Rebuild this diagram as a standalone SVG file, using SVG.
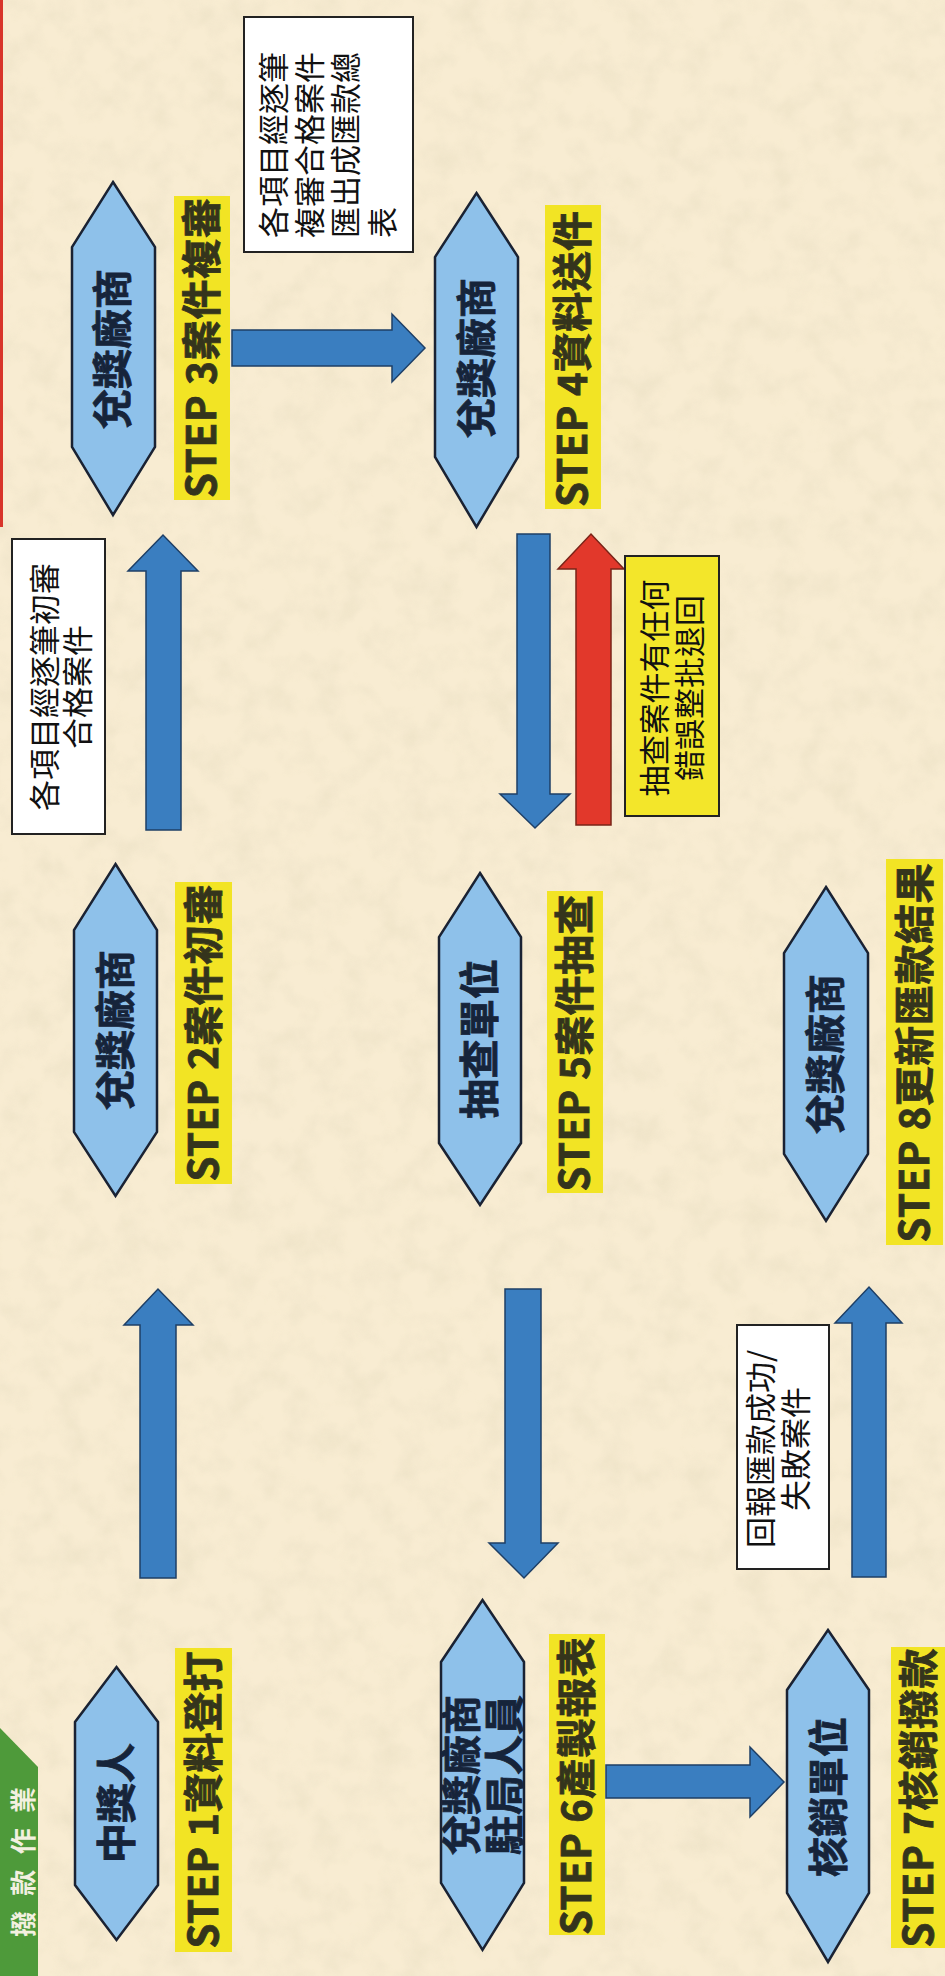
<svg xmlns="http://www.w3.org/2000/svg" width="945" height="1976" viewBox="0 0 945 1976">
<defs>
<style>
.hx{fill:#8ec1ea;stroke:#1a2233;stroke-width:2.5;stroke-linejoin:miter}
.ht{font-family:"Noto Sans CJK TC","Noto Sans CJK SC",sans-serif;font-weight:700;font-size:40px;fill:#16243a;stroke:#16243a;stroke-width:0.8;text-anchor:middle}
.yl{fill:#f2e424}
.st{font-family:"Noto Sans CJK TC","Noto Sans CJK SC",sans-serif;font-weight:700;font-size:40px;fill:#34341c;stroke:#34341c;stroke-width:0.8;text-anchor:middle}
.bx{fill:#ffffff;stroke:#222222;stroke-width:2}
.by{fill:#f3e62a;stroke:#222222;stroke-width:2}
.bt{font-family:"Noto Sans CJK TC","Noto Sans CJK SC",sans-serif;font-weight:400;font-size:31px;fill:#111111}
.ar{fill:#3a7ec0;stroke:#1e3f66;stroke-width:1.5}
.arr{fill:#e2382b;stroke:#7a2418;stroke-width:1.5}
</style>
<filter id="paper" x="0" y="0" width="100%" height="100%">
<feTurbulence type="fractalNoise" baseFrequency="0.035" numOctaves="3" seed="7"/>
<feColorMatrix type="matrix" values="0 0 0 0 0.82  0 0 0 0 0.74  0 0 0 0 0.55  1.5 0 0 0 -0.62"/>
</filter>
</defs>

<rect x="0" y="0" width="945" height="1976" fill="#f8ecd2"/>
<rect x="0" y="0" width="945" height="1976" filter="url(#paper)" opacity="0.8"/>

<rect id="red-edge" x="0" y="0" width="3" height="527" fill="#d8342a"/>

<g id="green-tab">
<path d="M0,1728 L38,1767 L38,1976 L0,1976 Z" fill="#4e9a3a"/>
<text transform="translate(24,1862) rotate(-90)" dy="0.36em" text-anchor="middle" font-family="Noto Sans CJK TC, Noto Sans CJK SC, sans-serif" font-weight="700" font-size="26" fill="#f3f0e0" textLength="150" lengthAdjust="spacing">撥款作業</text>
</g>

<g id="connectors">
<path id="a1" class="ar" d="M140,1578 L140,1325 L124,1325 L158,1289 L193,1325 L176,1325 L176,1578 Z"/>
<path id="a2" class="ar" d="M146,830 L146,571 L128,571 L163,535 L198,571 L181,571 L181,830 Z"/>
<path id="a3" class="ar" d="M232,330 L392,330 L392,314 L425,348 L392,382 L392,366 L232,366 Z"/>
<path id="a4" class="ar" d="M517,534 L550,534 L550,794 L570,794 L535,828 L500,794 L517,794 Z"/>
<path id="a5" class="arr" d="M576,825 L576,569 L558,569 L591,534 L624,569 L611,569 L611,825 Z"/>
<path id="a6" class="ar" d="M505,1289 L541,1289 L541,1543 L558,1543 L524,1578 L489,1543 L505,1543 Z"/>
<path id="a7" class="ar" d="M606,1765 L750,1765 L750,1747 L784,1782 L750,1817 L750,1798 L606,1798 Z"/>
<path id="a8" class="ar" d="M852,1577 L852,1323 L835,1323 L869,1287 L902,1323 L886,1323 L886,1577 Z"/>
</g>

<g id="note-initial">
<rect class="bx" x="12" y="539" width="93" height="295"/>
<text class="bt" text-anchor="middle" transform="translate(45,687) rotate(-90)" dy="0.36em">各項目經逐筆初審</text>
<text class="bt" text-anchor="middle" transform="translate(78,687) rotate(-90)" dy="0.36em">合格案件</text>
</g>

<g id="note-review">
<rect class="bx" x="244" y="17" width="169" height="235"/>
<text class="bt" text-anchor="start" transform="translate(274,238) rotate(-90)" dy="0.36em">各項目經逐筆</text>
<text class="bt" text-anchor="start" transform="translate(310,238) rotate(-90)" dy="0.36em">複審合格案件</text>
<text class="bt" text-anchor="start" transform="translate(346,238) rotate(-90)" dy="0.36em">匯出成匯款總</text>
<text class="bt" text-anchor="start" transform="translate(383,238) rotate(-90)" dy="0.36em">表</text>
</g>

<g id="note-reject">
<rect class="by" x="625" y="556" width="94" height="260"/>
<text class="bt" text-anchor="middle" transform="translate(655,688) rotate(-90)" dy="0.36em">抽查案件有任何</text>
<text class="bt" text-anchor="middle" transform="translate(690,688) rotate(-90)" dy="0.36em">錯誤整批退回</text>
</g>

<g id="note-report">
<rect class="bx" x="737" y="1325" width="92" height="244"/>
<text class="bt" text-anchor="middle" transform="translate(761,1449) rotate(-90)" dy="0.36em">回報匯款成功/</text>
<text class="bt" text-anchor="middle" transform="translate(796,1449) rotate(-90)" dy="0.36em">失敗案件</text>
</g>

<g id="step1">
<path class="hx" d="M116.5,1667 L158,1722 L158,1885 L116.5,1940 L75,1885 L75,1722 Z"/>
<text class="ht" transform="translate(116.5,1803) rotate(-90)" dy="0.36em">中獎人</text>
<rect class="yl" x="175" y="1648" width="57" height="304"/>
<text class="st" transform="translate(203.5,1800) rotate(-90)" dy="0.36em" textLength="297" lengthAdjust="spacing">STEP 1資料登打</text>
</g>

<g id="step2">
<path class="hx" d="M115.5,864 L157,930 L157,1132 L115.5,1196 L74,1132 L74,930 Z"/>
<text class="ht" transform="translate(115.5,1030) rotate(-90)" dy="0.36em">兌獎廠商</text>
<rect class="yl" x="175" y="882" width="57" height="302"/>
<text class="st" transform="translate(203.5,1033) rotate(-90)" dy="0.36em" textLength="297" lengthAdjust="spacing">STEP 2案件初審</text>
</g>

<g id="step3">
<path class="hx" d="M113,182 L155,247 L155,447 L113,515 L72,447 L72,247 Z"/>
<text class="ht" transform="translate(113,349) rotate(-90)" dy="0.36em">兌獎廠商</text>
<rect class="yl" x="174" y="196" width="56" height="304"/>
<text class="st" transform="translate(202,348) rotate(-90)" dy="0.36em" textLength="300" lengthAdjust="spacing">STEP 3案件複審</text>
</g>

<g id="step4">
<path class="hx" d="M476.5,193 L518,257 L518,457 L476.5,527 L435,457 L435,257 Z"/>
<text class="ht" transform="translate(477,358) rotate(-90)" dy="0.36em">兌獎廠商</text>
<rect class="yl" x="545" y="205" width="56" height="304"/>
<text class="st" transform="translate(573,359) rotate(-90)" dy="0.36em" textLength="296" lengthAdjust="spacing">STEP 4資料送件</text>
</g>

<g id="step5">
<path class="hx" d="M480,873 L521,937 L521,1143 L480,1205 L439,1143 L439,937 Z"/>
<text class="ht" transform="translate(480,1039) rotate(-90)" dy="0.36em">抽查單位</text>
<rect class="yl" x="547" y="891" width="56" height="302"/>
<text class="st" transform="translate(575,1043) rotate(-90)" dy="0.36em" textLength="297" lengthAdjust="spacing">STEP 5案件抽查</text>
</g>

<g id="step6">
<path class="hx" d="M482.5,1600 L524,1662 L524,1883 L482.5,1950 L441,1883 L441,1662 Z"/>
<text class="ht" transform="translate(462,1775) rotate(-90)" dy="0.36em">兌獎廠商</text>
<text class="ht" transform="translate(505,1775) rotate(-90)" dy="0.36em">駐局人員</text>
<rect class="yl" x="549" y="1634" width="56" height="301"/>
<text class="st" transform="translate(577,1786) rotate(-90)" dy="0.36em" textLength="298" lengthAdjust="spacing">STEP 6產製報表</text>
</g>

<g id="step7">
<path class="hx" d="M828,1630 L869,1690 L869,1893 L828,1962 L787,1893 L787,1690 Z"/>
<text class="ht" transform="translate(829,1797) rotate(-90)" dy="0.36em">核銷單位</text>
<rect class="yl" x="891" y="1647" width="54" height="301"/>
<text class="st" transform="translate(919,1798) rotate(-90)" dy="0.36em" textLength="299" lengthAdjust="spacing">STEP 7核銷撥款</text>
</g>

<g id="step8">
<path class="hx" d="M826,887 L868,953 L868,1154 L826,1221 L784,1154 L784,953 Z"/>
<text class="ht" transform="translate(826,1054) rotate(-90)" dy="0.36em">兌獎廠商</text>
<rect class="yl" x="886" y="859" width="57" height="386"/>
<text class="st" transform="translate(914.5,1053) rotate(-90)" dy="0.36em" textLength="379" lengthAdjust="spacing">STEP 8更新匯款結果</text>
</g>
</svg>
